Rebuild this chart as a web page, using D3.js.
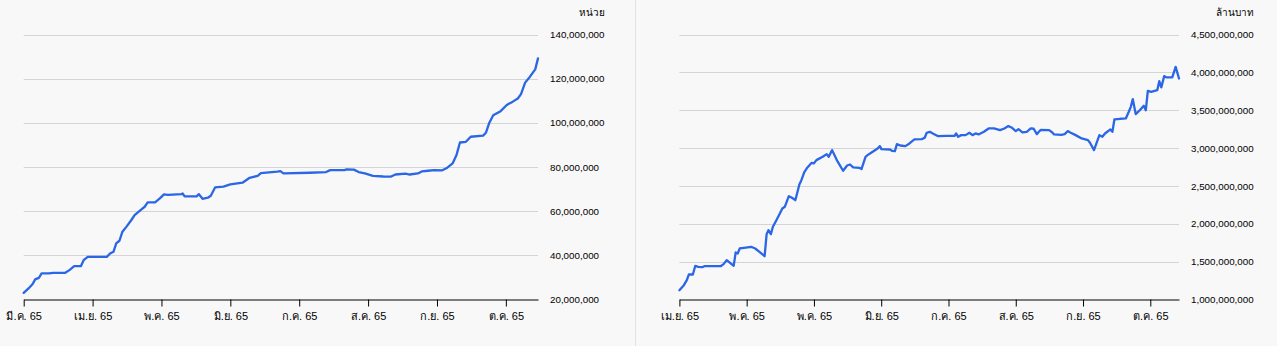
<!DOCTYPE html>
<html>
<head>
<meta charset="utf-8">
<script src="https://cdn.jsdelivr.net/npm/d3@7"></script>
<style>
  html, body { margin: 0; padding: 0; background: #f8f8f8; }
  svg { display: block; }
  text { font-family: "Liberation Sans", Arial, sans-serif; fill: #000; }
</style>
</head>
<body>
<script>
// ---- Left panel: units traded (millions of units), by day since the first observation
const leftDay = [0,2.1,3.9,5.0,6.6,7.8,11.0,12.8,16.3,18.1,19.9,22.0,24.9,26.1,27.9,36.2,37.6,39.1,40.3,41.7,
  43.0,44.7,46.9,48.3,50.9,52.7,54.0,57.2,59.3,61.1,62.8,68.7,69.2,70.1,75.3,76.3,77.9,80.2,81.5,83.4,
  87.0,90.0,95.3,98.4,101.9,103.3,110.4,111.8,113.1,124.6,131.7,133.5,139.7,140.6,143.8,145.9,148.6,152.1,156.6,159.8,
  161.9,166.3,168.1,171.7,173.4,176.1,178.8,182.3,184.1,186.8,188.5,190.0,192.6,194.7,200.1,201.3,202.7,204.5,207.7,210.4,
  213.0,215.2,216.6,218.4,220.5,222.8,224.0];
const leftUnitsM = [23.0,25,27,29.1,29.8,31.8,31.8,32.1,32.1,32.1,33.3,35.1,35.1,37.8,39.3,39.3,40.8,41.6,45.4,46.6,
  50.7,52.9,56,58.2,60.5,62,64,64,65.8,67.6,67.4,67.7,68,66.7,66.7,67.7,65.6,66.1,67,70.8,
  71.1,72.1,72.9,75.1,76,77.2,77.9,78.1,77.1,77.4,77.7,78.6,78.6,78.9,78.8,77.7,77.1,76,75.7,75.6,
  76.6,77,76.6,77.1,78,78.3,78.6,78.5,79.4,81.6,85.4,91.1,91.4,93.7,94.2,95.5,99.8,103.4,105.3,108.1,
  109.6,111,113,118.2,120.9,124.2,129.2];
const leftXTicks = [0,30,60,90,120,150,180,210];
const leftXLabels = ["มี.ค. 65","เม.ย. 65","พ.ค. 65","มิ.ย. 65","ก.ค. 65","ส.ค. 65","ก.ย. 65","ต.ค. 65"];
const leftYTicks = [20e6,40e6,60e6,80e6,100e6,120e6,140e6];
const leftUnitLabel = "หน่วย";

// ---- Right panel: value (billions of baht), by day since the first observation
const rightDay = [0,2.0,3.3,4.2,6.0,7.1,8.4,10.2,11.1,18.4,19.7,21.1,22.6,24.2,25.1,26.0,26.9,28.8,32.0,33.8,
  35.7,38.0,38.9,39.7,40.8,41.7,42.9,44.8,45.9,47.0,48.8,50.2,51.7,53.5,54.4,55.7,57.1,59.0,59.9,61.1,
  63.9,65.7,66.6,68.1,70.2,73.0,74.8,76.1,77.5,80.3,81.2,83.0,83.9,85.7,88.4,89.4,90.1,93.9,94.8,96.1,
  97.0,98.5,100.8,102.6,104.8,108.1,109.4,110.3,111.7,113.0,115.2,119.4,122.7,123.4,124.3,125.7,127.6,129.4,130.7,132.1,
  133.4,135.8,137.9,140.3,143.0,144.9,146.7,148.1,150.0,151.2,153.0,154.9,156.7,158.0,159.4,160.3,161.2,164.9,166.3,167.1,
  170.3,171.8,173.2,174.3,176.7,179.4,182.2,183.1,184.9,187.3,188.6,189.8,192.2,193.1,194.0,196.7,199.1,200.4,201.3,202.2,
  203.5,205.3,207.1,208.0,208.9,210.4,213.1,214.0,214.9,216.2,217.3,219.8,221.3,222.8];
const rightValueB = [1.123,1.189,1.255,1.330,1.330,1.445,1.432,1.427,1.44,1.44,1.467,1.52,1.484,1.445,1.621,1.608,1.674,1.683,1.696,1.674,
  1.63,1.572,1.863,1.916,1.863,1.96,2.026,2.136,2.202,2.224,2.365,2.343,2.312,2.519,2.576,2.682,2.744,2.805,2.797,2.841,
  2.885,2.92,2.885,2.973,2.841,2.7,2.77,2.783,2.744,2.739,2.722,2.885,2.907,2.942,2.995,3.026,2.986,2.981,2.964,2.959,
  3.052,3.034,3.026,3.061,3.114,3.118,3.136,3.202,3.215,3.193,3.158,3.162,3.162,3.193,3.149,3.171,3.171,3.202,3.171,3.193,
  3.18,3.215,3.259,3.259,3.237,3.259,3.29,3.272,3.224,3.25,3.206,3.215,3.259,3.255,3.184,3.215,3.241,3.237,3.206,3.18,
  3.175,3.184,3.224,3.206,3.171,3.127,3.105,3.07,2.973,3.171,3.149,3.193,3.246,3.215,3.378,3.387,3.391,3.479,3.545,3.646,
  3.448,3.5,3.558,3.5,3.756,3.743,3.765,3.884,3.801,3.95,3.933,3.933,4.073,3.919];
const rightXTicks = [0,30,60,90,120,150,180,210];
const rightXLabels = ["เม.ย. 65","พ.ค. 65","พ.ค. 65","มิ.ย. 65","ก.ค. 65","ส.ค. 65","ก.ย. 65","ต.ค. 65"];
const rightYTicks = [1.0e9,1.5e9,2.0e9,2.5e9,3.0e9,3.5e9,4.0e9,4.5e9];
const rightUnitLabel = "ล้านบาท";

const W = 1277, H = 346;
const LINE = "#2a66e6";
const GRID = "#d4d4d4";

const svg = d3.select("body").append("svg").attr("width", W).attr("height", H);
svg.append("rect").attr("width", W).attr("height", H).attr("fill", "#f8f8f8");

// divider between the two panels
svg.append("line")
  .attr("x1", 635.5).attr("x2", 635.5).attr("y1", 0).attr("y2", H)
  .attr("stroke", "#e2e2e2").attr("stroke-width", 1);

function panel(o) {
  const x = d3.scaleLinear().domain([0, o.xMax]).range([o.left, o.right]);
  const y = d3.scaleLinear().domain(d3.extent(o.yTicks)).range([299.5, 34.5]);
  const g = svg.append("g");

  // horizontal gridlines
  g.append("g").selectAll("line").data(o.yTicks.slice(1)).join("line")
    .attr("x1", o.left).attr("x2", o.right)
    .attr("y1", d => Math.round(y(d)) + 0.5).attr("y2", d => Math.round(y(d)) + 0.5)
    .attr("stroke", GRID).attr("stroke-width", 1);

  // value axis on the right
  const ya = g.append("g").attr("transform", `translate(${o.right},0)`)
    .call(d3.axisRight(y).tickValues(o.yTicks).tickSize(0).tickPadding(12).tickFormat(d3.format(",")));
  ya.select(".domain").remove();
  ya.selectAll("text").attr("font-size", 9.8).attr("font-family", null);

  // unit caption, right-aligned with the widest value label
  const bb = ya.node().getBBox();
  g.append("text").attr("x", o.right + bb.x + bb.width).attr("y", 16)
    .attr("text-anchor", "end").attr("font-size", 10).text(o.unit);

  // time axis at the bottom
  const xa = g.append("g").attr("transform", "translate(0,299.5)")
    .call(d3.axisBottom(x).tickValues(o.xTicks).tickSize(7).tickSizeOuter(0).tickPadding(6)
      .tickFormat((d, i) => o.xLabels[i]));
  xa.select(".domain").attr("stroke", "#000");
  xa.selectAll(".tick line").attr("stroke", "#000");
  xa.selectAll("text").attr("font-size", 11).attr("font-family", null);

  // series line
  const pts = o.days.map((d, i) => [d, o.values[i] * o.scale]);
  g.append("path").datum(pts)
    .attr("fill", "none").attr("stroke", LINE).attr("stroke-width", 2.3)
    .attr("stroke-linejoin", "round").attr("stroke-linecap", "round")
    .attr("d", d3.line().x(p => x(p[0])).y(p => y(p[1])));
}

panel({ left: 23.7, right: 538, xMax: 224, days: leftDay, values: leftUnitsM, scale: 1e6,
  xTicks: leftXTicks, xLabels: leftXLabels, yTicks: leftYTicks, unit: leftUnitLabel });
panel({ left: 679.4, right: 1179, xMax: 222.8, days: rightDay, values: rightValueB, scale: 1e9,
  xTicks: rightXTicks, xLabels: rightXLabels, yTicks: rightYTicks, unit: rightUnitLabel });
</script>
</body>
</html>
